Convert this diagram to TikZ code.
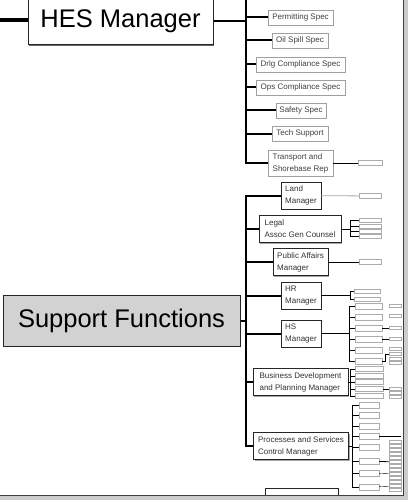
\documentclass[tikz,border=0pt]{standalone}
\usepackage{fontspec}
\setmainfont{Liberation Sans}
\usetikzlibrary{positioning,shadows}

\begin{document}
\begin{tikzpicture}[
        x=1pt, y=-1pt,
        every node/.style={font=\fontsize{8}{12}\selectfont},
        mgrbox/.style={rectangle, draw=black!85, line width=1pt, fill=white, inner sep=0pt, font=\fontsize{25.5}{30}\selectfont, drop shadow={shadow xshift=1.3pt, shadow yshift=-1.3pt, fill=black!60, opacity=1}},
        specbox/.style={rectangle, draw=gray!75, line width=0.6pt, fill=white, inner sep=0pt, minimum height=15pt, align=left, text=black!75, drop shadow={shadow xshift=0.8pt, shadow yshift=-0.8pt, fill=gray!70, opacity=1}},
        unitbox/.style={rectangle, draw=black!85, line width=0.8pt, fill=white, inner sep=0pt, minimum height=27pt, align=left, text=black!80, drop shadow={shadow xshift=1pt, shadow yshift=-1pt, fill=gray!70, opacity=1}},
        leaf/.style={rectangle, draw=gray!65, line width=0.5pt, fill=white, inner sep=0pt, minimum width=22pt, minimum height=5pt},
        twig/.style={rectangle, draw=gray!65, line width=0.4pt, fill=white, inner sep=0pt, minimum width=12pt, minimum height=3pt},
        conn/.style={line width=2pt, draw=black},
        thin/.style={line width=0.8pt, draw=black}
        ]
        \useasboundingbox (0,0) rectangle (408,500);
        \clip (0,0) rectangle (408,500);

        % HES
        \node[mgrbox, minimum width=185pt, minimum height=47pt] (hes) at (120.5,21.5) {HES Manager};
        \node[specbox, minimum width=65pt] (permit) at (300.5,17.5) {Permitting Spec};
        \node[specbox, minimum width=56pt] (oilspill) at (300,40.5) {Oil Spill Spec};
        \node[specbox, minimum width=89pt] (drlg) at (300.5,64.5) {Drlg Compliance Spec};
        \node[specbox, minimum width=89pt] (ops) at (300.5,87.5) {Ops Compliance Spec};
        \node[specbox, minimum width=50pt] (safety) at (301,110.5) {Safety Spec};
        \node[specbox, minimum width=56pt] (tech) at (300,133.5) {Tech Support};
        \node[specbox, minimum width=65pt, minimum height=26pt] (transport) at (300.5,163) {Transport and\\Shorebase Rep};
        \node[leaf, minimum width=24pt] (transport-1) at (370,163) {};

        \coordinate (hesin) at (0,20);
        \coordinate (hestop) at (246,-5);
        \coordinate (hesbus) at (246,21.5);
        \draw[conn, line width=4pt] (hesin) -- (hesin -| hes.west);
        \draw[conn] (hes) -- (hesbus);
        \draw[conn] (hestop) -- (hesbus);
        \foreach \c in {permit,oilspill,drlg,ops,safety,tech,transport}
            \draw[conn] (hesbus) |- (\c.west);
        \draw[thin] (transport) -- (transport-1);

        % Support Functions
        \node[mgrbox, fill=gray!35, minimum width=237pt, minimum height=51pt] (support) at (121.5,320.5) {Support Functions};
        \node[unitbox, minimum width=40pt] (land) at (301,195.5) {Land\\Manager};
        \node[unitbox, minimum width=82pt] (legal) at (300,229) {Legal\\Assoc Gen Counsel};
        \node[unitbox, minimum width=55pt] (public) at (300.5,262) {Public Affairs\\Manager};
        \node[unitbox, minimum width=40pt] (hr) at (301,295.5) {HR\\Manager};
        \node[unitbox, minimum width=40pt] (hs) at (301,333.5) {HS\\Manager};
        \node[unitbox, minimum width=95pt] (bizdev) at (300.5,382) {Business Development\\and Planning Manager};
        \node[unitbox, minimum width=95pt] (procserv) at (301,446) {Processes and Services\\Control Manager};
        \node[unitbox, minimum width=73pt] (lastunit) at (301.5,502) {};

        \coordinate (supbus) at (246,320.5);
        \draw[conn] (support) -- (supbus);
        \foreach \c in {land,legal,public,hr,hs,bizdev,procserv}
            \draw[conn] (supbus) |- (\c.west);

        % Land, Public Affairs
        \node[leaf] (land-1) at (370,196) {};
        \node[leaf] (public-1) at (370,262) {};
        \draw[thin, draw=gray!70] (land) -- (land-1);
        \draw[thin] (public) -- (public-1);

        % Legal
        \coordinate (legalbus) at (350,229);
        \foreach \y [count=\i] in {220,226,231,236}
            \node[leaf, minimum height=4pt] (legal-\i) at (370,\y) {};
        \draw[thin] (legal) -- (legalbus);
        \foreach \i in {1,...,4}
            \draw[thin] (legalbus) |- (legal-\i.west);

        % HR
        \coordinate (hrbus) at (350,295.5);
        \foreach \y [count=\i] in {291,299}
            \node[leaf, minimum width=26pt, minimum height=4pt] (hr-\i) at (367,\y) {};
        \draw[thin] (hr) -- (hrbus);
        \foreach \i in {1,2}
            \draw[thin] (hrbus) |- (hr-\i.west);

        % HS
        \coordinate (hsbus) at (349,333.5);
        \foreach \y [count=\i] in {306,317,328,339,350,361}
            \node[leaf, minimum width=27pt, minimum height=6pt] (hs-\i) at (368.5,\y) {};
        \draw[thin] (hs) -- (hsbus);
        \foreach \i in {1,...,6}
            \draw[thin] (hsbus) |- (hs-\i.west);
        \foreach \y [count=\i] in {306,316,328,339,349,354,359,363}
            \node[twig] (hssub-\i) at (395,\y) {};
        \draw[thin, line width=0.4pt] (hs-3) -- (hssub-3);
        \draw[thin, line width=0.4pt] (hs-4) -- (hssub-4);
        \draw[thin, line width=0.4pt] (hs-6.east) -- ++(3,0) |- (hssub-6.west);

        % Business Development
        \coordinate (bizbus) at (350,382);
        \foreach \y [count=\i] in {369,376,382,389,396}
            \node[leaf, minimum width=28pt] (biz-\i) at (369,\y) {};
        \draw[thin] (bizdev) -- (bizbus);
        \foreach \i in {1,...,5}
            \draw[thin] (bizbus) |- (biz-\i.west);
        \foreach \y [count=\i] in {389,393,397}
            \node[twig] (bizsub-\i) at (395,\y) {};
        \draw[thin, line width=0.4pt] (biz-4) -- (bizsub-1);

        % Processes and Services
        \coordinate (procbus) at (352,446);
        \foreach \y [count=\i] in {405,415,426,436,447,461,473,487}
            \node[leaf, minimum width=20pt, minimum height=6pt] (proc-\i) at (369,\y) {};
        \draw[thin] (procserv) -- (procbus);
        \foreach \i in {1,...,8}
            \draw[thin] (procbus) |- (proc-\i.west);
        \foreach \y [count=\i] in {442,446,450,454,458,462,466,470,474,478,482,486,490}
            \node[twig] (procsub-\i) at (395,\y) {};
        \draw[thin, line width=0.4pt] (proc-4.east) -- (proc-4.east -| procsub-1.east);
        \draw[thin] (proc-6) -- (procsub-6);
        \draw[thin, line width=0.4pt] (proc-7) -- (procsub-9);
        \draw[thin, line width=0.4pt] (proc-8) -- (procsub-12);

        % window edge
        \fill[gray!40] (403.5,0) rectangle (408,500);
        \fill[gray!40] (0,495.5) rectangle (408,500);
        \draw[gray!50!black, line width=1pt] (403.5,0) -- (403.5,495.5) -- (0,495.5);
    \end{tikzpicture}
\end{document}
